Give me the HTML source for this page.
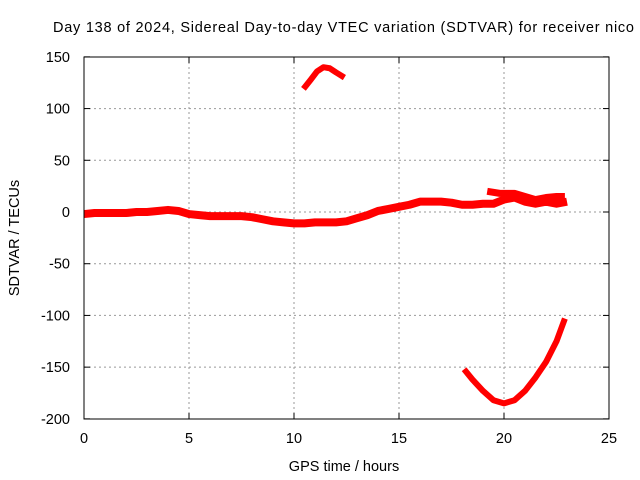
<!DOCTYPE html>
<html><head><meta charset="utf-8"><style>
body{margin:0;background:#fff;}
svg{display:block;font-family:"Liberation Sans",sans-serif;}
</style></head><body>
<svg id="c" width="640" height="480">
<text x="53" y="32" font-size="14.5" textLength="581" lengthAdjust="spacing">Day 138 of 2024, Sidereal Day-to-day VTEC variation (SDTVAR) for receiver nico</text>
<text x="344" y="471" font-size="14.5" text-anchor="middle">GPS time / hours</text>
<text x="19" y="238" font-size="14.5" text-anchor="middle" transform="rotate(-90 19 238)">SDTVAR / TECUs</text>
<g id="grid"></g>
<g id="ticks"></g>
<g id="marks"></g>
<rect x="84" y="57" width="525" height="362" fill="none" stroke="#000" stroke-width="1"/>
</svg>
<script>
const xTicks=[0,5,10,15,20,25];
const yTicks=[150,100,50,0,-50,-100,-150,-200];
const mainHours=[0,0.5,1,1.5,2,2.5,3,3.5,4,4.5,5,5.5,6,6.5,7,7.5,8,8.5,9,9.5,10,10.5,11,11.5,12,12.5,13,13.5,14,14.5,15,15.5,16,16.5,17,17.5,18,18.5,19,19.5,20,20.5,21,21.5,22,22.5,23];
const mainValues=[-2,-1,-1,-1,-1,0,0,1,2,1,-2,-3,-4,-4,-4,-4,-5,-7,-9,-10,-11,-11,-10,-10,-10,-9,-6,-3,1,3,5,7,10,10,10,9,7,7,8,8,12,14,10,8,10,8,10];
const upperHours=[19.2,19.8,20.5,21,21.5,22,22.5,22.9];
const upperValues=[20,18,18,15,12,14,15,15];
const arcHours=[10.45,10.8,11.1,11.4,11.7,12,12.4];
const arcValues=[119,128,136,140,139,135,130];
const dipHours=[18.1,18.5,19,19.5,20,20.5,21,21.5,22,22.5,22.9];
const dipValues=[-152,-162,-173,-182,-185,-182,-173,-160,-145,-125,-103];
const X=h=>84+h*21, Y=v=>212-v*362/350;
const NS="http://www.w3.org/2000/svg";
const g=document.getElementById('grid'), t=document.getElementById('ticks'), m=document.getElementById('marks');
function el(p,tag,a){const e=document.createElementNS(NS,tag);for(const k in a)e.setAttribute(k,a[k]);p.appendChild(e);return e;}
xTicks.forEach(v=>{const x=X(v);
 if(v>0&&v<25){const l=el(g,'line',{x1:x,x2:x,y1:57,y2:419,stroke:'#999','stroke-dasharray':'2,3'});}
 el(t,'line',{x1:x,x2:x,y1:419,y2:413,stroke:'#000'});el(t,'line',{x1:x,x2:x,y1:57,y2:63,stroke:'#000'});
 const s=el(t,'text',{x:x,y:443,'font-size':14.5,'text-anchor':'middle'});s.textContent=v;
 });
yTicks.forEach(v=>{const y=Y(v);
 if(v<150&&v>-200){const l=el(g,'line',{x1:84,x2:609,y1:y,y2:y,stroke:'#999','stroke-dasharray':'2,3'});}
 el(t,'line',{x1:84,x2:90,y1:y,y2:y,stroke:'#000'});el(t,'line',{x1:609,x2:603,y1:y,y2:y,stroke:'#000'});
 const s=el(t,'text',{x:70,y:y+5,'font-size':14.5,'text-anchor':'end'});s.textContent=v;
 });
function series(hs,vs,w,name){
 const pts=hs.map((h,i)=>X(h)+','+Y(vs[i])).join(' ');
 const p=el(m,'polyline',{points:pts,fill:'none',stroke:'#f00','stroke-width':w,'stroke-linejoin':'round'});
 
}
series(mainHours,mainValues,8,'main-series');
series(upperHours,upperValues,7,'upper-series');
series(arcHours,arcValues,6,'arc-series');
series(dipHours,dipValues,6,'dip-series');
</script>
</body></html>
